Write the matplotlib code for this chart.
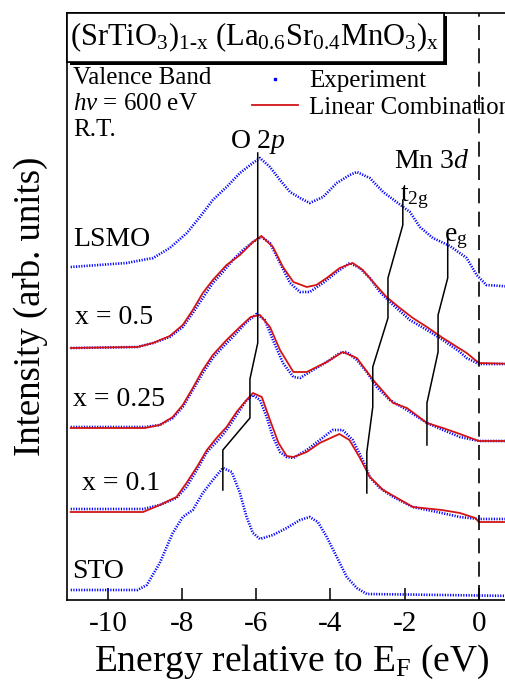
# Espectros de banda de valencia (SrTiO3)1-x (La0.6Sr0.4MnO3)x
import matplotlib
matplotlib.use("Agg")
import matplotlib.pyplot as plt
import matplotlib.patheffects as pe
from matplotlib.patches import Rectangle
from matplotlib.lines import Line2D

plt.rcParams['font.family'] = ['Liberation Serif', 'DejaVu Serif']
plt.rcParams['mathtext.fontset'] = 'custom'
plt.rcParams['mathtext.rm'] = 'Liberation Serif'
plt.rcParams['mathtext.it'] = 'Liberation Serif:italic'

# Desplazamientos verticales de cada espectro (arb. units)
offsets = {'STO': 10, 'x01': 91, 'x025': 173, 'x05': 252, 'LSMO': 334}

# STO (solo experimento)
E_sto = [-11.0, -9.2, -8.95, -8.6, -8.25, -7.98, -7.71, -7.44, -7.17, -6.9, -6.66, -6.44,
         -6.26, -6.09, -5.9, -5.55, -5.18, -4.82, -4.56, -4.34, -4.1, -3.83, -3.56, -3.29,
         -3.02, 1.0]
I_sto = [0, 0, 5, 27, 57, 73, 80, 97, 110, 122, 118, 97, 73, 57, 51, 55, 62, 70, 73, 68,
         53, 33, 13, 2, -4, -6]

# x = 0.1
E_x01 = [-11.0, -9.05, -8.6, -8.15, -7.88, -7.6, -7.33, -7.07, -6.8, -6.53, -6.26, -6.09,
         -5.9, -5.72, -5.55, -5.36, -5.18, -5.0, -4.64, -4.29, -3.94, -3.67, -3.4, -3.13,
         -2.94, -2.67, -2.31, -1.78, -1.0, -0.51, 0.0, 1.0]
I_x01 = [0, 0, 4, 11, 22, 39, 57, 67, 79, 94, 109, 114, 109, 92, 72, 57, 52, 51, 59, 69,
         79, 79, 69, 49, 32, 21, 12, 2, -4, -8, -10, -10]
E_x01_fit = [-11.0, -9.05, -8.6, -8.15, -7.88, -7.6, -7.33, -7.07, -6.8, -6.53, -6.33,
             -6.09, -5.85, -5.63, -5.4, -5.18, -5.0, -4.64, -4.29, -3.76, -3.49, -3.22,
             -2.94, -2.58, -1.78, -1.0, -0.51, -0.1, 0.0, 1.0]
I_x01_fit = [-3, -3, 4, 12, 26, 42, 59, 71, 82, 97, 106, 116, 112, 89, 66, 53, 52, 57, 66,
             75, 69, 52, 32, 19, 2, -1, -4, -9, -13, -13]

# x = 0.25
E_x025 = [-11.0, -9.0, -8.6, -8.25, -7.98, -7.71, -7.44, -7.17, -6.9, -6.53, -6.26, -5.99,
          -5.77, -5.55, -5.28, -5.0, -4.82, -4.47, -4.1, -3.75, -3.56, -3.29, -3.02, -2.75,
          -2.4, -1.94, -1.4, -0.97, -0.51, 0.0, 1.0]
I_x025 = [0, 0, 2, 9, 20, 37, 54, 69, 80, 94, 105, 113, 107, 87, 64, 50, 49, 57, 65, 74,
          75, 67, 55, 40, 27, 17, 4, -3, -10, -14, -14]
E_x025_fit = [-11.0, -9.0, -8.6, -8.25, -7.98, -7.71, -7.44, -7.17, -6.8, -6.44, -6.15,
              -5.9, -5.63, -5.36, -5.0, -4.64, -4.1, -3.67, -3.29, -2.85, -2.31, -1.94,
              -1.4, -0.97, -0.51, 0.0, 1.0]
I_x025_fit = [-1, -1, 2, 10, 22, 39, 57, 72, 87, 100, 110, 112, 100, 77, 55, 55, 65, 75,
              69, 47, 24, 19, 4, -1, -7, -14, -14]

# x = 0.5
E_x05 = [-11.0, -9.2, -8.78, -8.33, -7.98, -7.71, -7.44, -7.17, -6.9, -6.63, -6.36, -6.09,
         -5.86, -5.63, -5.36, -5.09, -4.82, -4.56, -4.2, -3.83, -3.48, -3.21, -2.94, -2.67,
         -2.31, -1.86, -1.4, -0.97, -0.51, -0.33, 0.0, 1.0]
I_x05 = [0, 1, 5, 11, 21, 35, 50, 65, 76, 88, 98, 106, 111, 105, 85, 65, 56, 56, 65, 76,
         85, 80, 70, 56, 43, 28, 18, 8, -4, -10, -16, -16]
E_x05_fit = [-11.0, -9.2, -8.78, -8.33, -7.98, -7.71, -7.44, -7.17, -6.8, -6.44, -6.09,
             -5.86, -5.55, -5.28, -5.0, -4.64, -4.38, -4.1, -3.75, -3.4, -3.13, -2.85,
             -2.49, -2.13, -1.78, -1.4, -0.97, -0.33, 0.0, 1.0]
I_x05_fit = [0, 1, 5, 12, 23, 38, 55, 68, 83, 93, 106, 112, 101, 81, 66, 61, 63, 70, 80,
             85, 78, 66, 51, 40, 30, 21, 10, -5, -15, -16]

# LSMO (solo experimento)
E_lsmo = [-11.0, -9.5, -8.78, -8.33, -7.87, -7.52, -7.17, -6.8, -6.44, -6.09, -5.9, -5.63,
          -5.36, -5.09, -4.82, -4.56, -4.2, -3.83, -3.48, -3.29, -2.94, -2.58, -2.22, -1.86,
          -1.59, -1.24, -0.78, -0.33, -0.06, 0.2, 1.0]
I_lsmo = [-1, 3, 8, 18, 33, 49, 66, 79, 93, 103, 108, 99, 86, 74, 68, 63, 69, 83, 91, 94,
          88, 74, 64, 54, 39, 28, 20, 8, -9, -19, -21]

# Lineas guia de los picos (energia, intensidad)
O2p_E = [-5.96, -5.96, -6.17, -6.17, -6.9, -6.9]
O2p_I = [447, 257, 221, 182, 150, 110]
t2g_E = [-2.05, -2.05, -2.45, -2.45, -2.86, -2.86, -3.02, -3.02]
t2g_I = [400, 375, 322, 282, 233, 193, 148, 107]
eg_E = [-0.84, -0.84, -1.1, -1.1, -1.4, -1.4]
eg_I = [360, 322, 285, 248, 197, 155]

etiquetas = ['STO', 'x = 0.1', 'x = 0.25', 'x = 0.5', 'LSMO']
etiq_E = [-10.95, -10.7, -10.95, -10.88, -10.93]
etiq_I = [28, 117, 201, 282, 360]

azul = '#0000ff'
rojo = '#d41414'

fig = plt.figure(figsize=(5.06, 6.8), dpi=100)
ax = fig.add_axes([67 / 506, 80 / 680, 449 / 506, 587 / 680])


def sumar(lista, d):
    return [v + d for v in lista]


exp_kw = dict(color=azul, lw=1.9, linestyle=(0, (0.45, 0.55)))
fit_kw = dict(color=rojo, lw=1.3)

ax.plot(E_sto, sumar(I_sto, offsets['STO']), **exp_kw)
ax.plot(E_x01, sumar(I_x01, offsets['x01']), **exp_kw)
ax.plot(E_x01_fit, sumar(I_x01_fit, offsets['x01']), **fit_kw)
ax.plot(E_x025, sumar(I_x025, offsets['x025']), **exp_kw)
ax.plot(E_x025_fit, sumar(I_x025_fit, offsets['x025']), **fit_kw)
ax.plot(E_x05, sumar(I_x05, offsets['x05']), **exp_kw)
ax.plot(E_x05_fit, sumar(I_x05_fit, offsets['x05']), **fit_kw)
ax.plot(E_lsmo, sumar(I_lsmo, offsets['LSMO']), **exp_kw)

for xs, ys in [(O2p_E, O2p_I), (t2g_E, t2g_I), (eg_E, eg_I)]:
    ax.plot(xs, ys, color='k', lw=1.1)

ax.axvline(0, color='k', lw=1.2, dashes=(9, 5))

ax.set_xlim(-11.1, 1.0)
ax.set_ylim(0, 587)
ax.set_xticks([-10, -8, -6, -4, -2, 0])
ax.set_xticklabels(['-10', '-8', '-6', '-4', '-2', '0'])
ax.set_yticks([])
ax.tick_params(axis='x', direction='in', length=9, width=1.1, labelsize=21, pad=8)
for s in ax.spines.values():
    s.set_linewidth(1.2)

ax.set_xlabel('Energy relative to E$_\\mathrm{F}$ (eV)', fontsize=27, labelpad=4)
ax.set_ylabel('Intensity (arb. units)', fontsize=26.5, labelpad=14)

for txt, xe, yi in zip(etiquetas, etiq_E, etiq_I):
    ax.text(xe, yi, txt, fontsize=20, ha='left', va='center')

ax.text(-10.94, 522, 'Valence Band', fontsize=18, ha='left', va='center')
ax.text(-10.94, 496, '$h\\nu$ = 600 eV', fontsize=18, ha='left', va='center')
ax.text(-10.94, 470, 'R.T.', fontsize=18, ha='left', va='center')

ax.text(-5.96, 458, 'O 2$p$', fontsize=20, ha='center', va='center')
ax.text(-1.27, 439, 'Mn 3$d$', fontsize=20, ha='center', va='center')
ax.text(-2.12, 403, 't$_\\mathrm{2g}$', fontsize=20, ha='left', va='center')
ax.text(-0.95, 362, 'e$_\\mathrm{g}$', fontsize=20, ha='left', va='center')

# Leyenda
h_exp = Line2D([], [], color=azul, marker='s', markersize=1.8, linestyle='none')
h_fit = Line2D([], [], color=rojo, lw=1.3)
ax.legend([h_exp, h_fit], ['Experiment', 'Linear Combination'], loc='upper left',
          bbox_to_anchor=(0.412, 0.903), frameon=False, fontsize=18, borderpad=0,
          borderaxespad=0, handlelength=1.85, handletextpad=0.45, labelspacing=0.15)

# Caja del titulo con sombra
caja = Rectangle((0.0, 0.9165), 0.84, 0.0835, transform=ax.transAxes, facecolor='white',
                 edgecolor='k', lw=1.2, zorder=10, clip_on=False)
caja.set_path_effects([pe.withSimplePatchShadow(offset=(2.2, -2.2), shadow_rgbFace='k',
                                                alpha=1.0), pe.Normal()])
ax.add_patch(caja)
ax.text(0.418, 0.958,
        '(SrTiO$_3$)$_\\mathrm{1\\text{-}x}$ (La$_{0.6}$Sr$_{0.4}$MnO$_3$)$_\\mathrm{x}$',
        transform=ax.transAxes, fontsize=22, ha='center', va='center', zorder=11)

fig.savefig('out.png', dpi=100)
